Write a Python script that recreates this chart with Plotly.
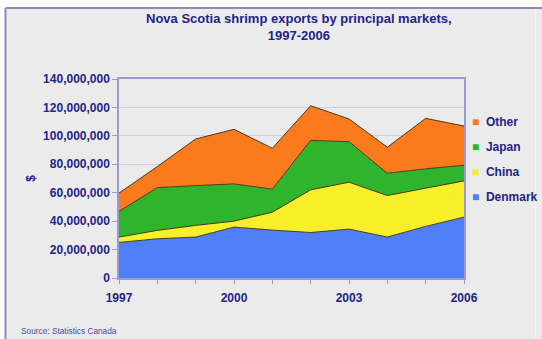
import plotly.graph_objects as go

# Nova Scotia shrimp exports by principal market (Canadian dollars)
years = [1997, 1998, 1999, 2000, 2001, 2002, 2003, 2004, 2005, 2006]
denmark = [25.0e6, 27.6e6, 28.8e6, 35.8e6, 33.7e6, 32.0e6, 34.4e6, 28.8e6, 36.3e6, 42.8e6]
china = [3.8e6, 5.9e6, 8.2e6, 4.2e6, 12.6e6, 30.0e6, 33.0e6, 29.2e6, 26.9e6, 25.5e6]
japan = [18.0e6, 30.1e6, 28.0e6, 26.2e6, 16.2e6, 34.8e6, 28.5e6, 15.7e6, 13.6e6, 11.0e6]
other = [12.9e6, 14.8e6, 32.8e6, 38.4e6, 28.8e6, 24.4e6, 16.0e6, 18.3e6, 35.5e6, 27.6e6]

series = [
    ("Denmark", denmark, "#4f7ff7"),
    ("China", china, "#f7ef2a"),
    ("Japan", japan, "#2fb52c"),
    ("Other", other, "#fb7a1c"),
]

y_ticks = [0, 20e6, 40e6, 60e6, 80e6, 100e6, 120e6, 140e6]
x_ticks = [1997, 2000, 2003, 2006]

NAVY = "#23238a"
LAV = "#9a9ad0"
BG = "#ebebeb"
FONT = "Liberation Sans, Arial, sans-serif"

W, H = 542, 339
L, R, T, B = 119, 78, 79, 61

fig = go.Figure()

for name, vals, color in series:
    fig.add_trace(go.Scatter(
        x=years, y=vals, name=name, stackgroup="exports",
        mode="lines", line=dict(color="#4a3a1e", width=1),
        fillcolor=color, showlegend=False, hoverinfo="skip",
    ))

# legend entries, top to bottom: Other, Japan, China, Denmark
for name, vals, color in reversed(series):
    fig.add_trace(go.Scatter(
        x=[None], y=[None], mode="markers",
        name=f"<span style='color:{color}'>■</span>&nbsp;&nbsp;{name}",
        marker=dict(symbol="square", size=1, opacity=0),
        legendgroup=name, showlegend=True,
    ))


def px_x(p):
    return (p - L) / (W - L - R)


def px_y(p):
    return (H - B - p) / (H - T - B)


shapes = [
    # panel background and its top/left frame (kept inside the page)
    dict(type="rect", xref="paper", yref="paper", layer="below",
         x0=px_x(6), x1=px_x(W), y0=px_y(H), y1=px_y(8),
         fillcolor=BG, line=dict(width=0)),
    dict(type="line", xref="paper", yref="paper", layer="below",
         x0=px_x(5.5), x1=px_x(W), y0=px_y(8), y1=px_y(8),
         line=dict(color="#8c8cbc", width=2)),
    dict(type="line", xref="paper", yref="paper", layer="below",
         x0=px_x(5.5), x1=px_x(5.5), y0=px_y(8), y1=px_y(H),
         line=dict(color="#8c8cbc", width=2)),
    dict(type="line", xref="paper", yref="paper", layer="below",
         x0=px_x(535.5), x1=px_x(535.5), y0=px_y(9), y1=px_y(H),
         line=dict(color="#f4f4f4", width=1)),
]

fig.update_layout(
    width=W, height=H,
    margin=dict(l=L, r=R, t=T, b=B, autoexpand=False),
    paper_bgcolor="white",
    plot_bgcolor="rgba(0,0,0,0)",
    font=dict(family=FONT, color=NAVY),
    xaxis=dict(
        range=[1997, 2006], tickvals=x_ticks, ticktext=[str(v) for v in x_ticks],
        ticks="outside", ticklen=4, tickcolor=LAV,
        minor=dict(dtick=1, ticks="outside", ticklen=4, tickcolor=LAV),
        showgrid=False, zeroline=False,
        showline=True, linecolor=LAV, linewidth=1.5, mirror=True,
        tickfont=dict(size=12, color=NAVY, family=FONT, weight="bold"),
        ticklabelstandoff=4,
    ),
    yaxis=dict(
        range=[0, 140e6], tickvals=y_ticks, tickformat=",d",
        ticks="outside", ticklen=5, tickcolor=LAV,
        showgrid=True, gridcolor="#cfcfe8", gridwidth=1, zeroline=False,
        showline=True, linecolor=LAV, linewidth=1.5, mirror=True,
        tickfont=dict(size=12, color=NAVY, family=FONT, weight="bold"),
        title=dict(text="<b>$</b>", standoff=5,
                   font=dict(size=12, color=NAVY, family=FONT)),
    ),
    legend=dict(
        x=px_x(432), xanchor="left", y=px_y(107), yanchor="top",
        traceorder="grouped", tracegroupgap=6,
        bgcolor="rgba(0,0,0,0)",
        font=dict(size=12, color=NAVY, family=FONT, weight="bold"),
    ),
    shapes=shapes,
    annotations=[
        dict(text="<b>Nova Scotia shrimp exports by principal markets,<br>1997-2006</b>",
             xref="paper", yref="paper", x=px_x(299), y=px_y(27),
             xanchor="center", yanchor="middle", showarrow=False,
             font=dict(size=13, color=NAVY, family=FONT)),
        dict(text="Source: Statistics Canada", xref="paper", yref="paper",
             x=px_x(19), y=px_y(331), xanchor="left", yanchor="middle",
             showarrow=False, font=dict(size=8.3, color="#4a4aa0", family=FONT)),
    ],
)

fig.write_html("out.html")
